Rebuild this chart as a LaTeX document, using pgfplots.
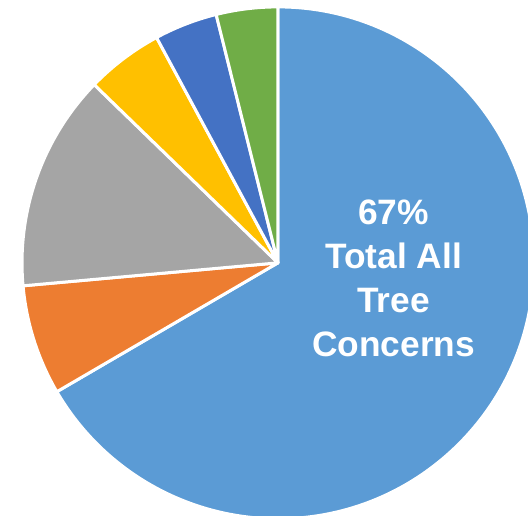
\documentclass[border=0pt]{standalone}
\usepackage{pgfplots}
\usepackage{pgfplotstable}
\pgfplotsset{compat=1.18}
\usepackage{fontspec}
\setmainfont{Liberation Sans}

\definecolor{sBlue}{HTML}{5B9BD5}
\definecolor{sOrange}{HTML}{ED7D31}
\definecolor{sGray}{HTML}{A5A5A5}
\definecolor{sYellow}{HTML}{FFC000}
\definecolor{sDarkBlue}{HTML}{4472C4}
\definecolor{sGreen}{HTML}{70AD47}

% shares in percent, clockwise from 12 o'clock
\pgfplotstableread{
share colour
66.9  sBlue
7.0   sOrange
13.75 sGray
4.9   sYellow
4.0   sDarkBlue
3.9   sGreen
}\piedata

\begin{document}
\begin{tikzpicture}
\begin{axis}[
	x=192pt, y=192pt,
	xmin=-1.086, xmax=0.977,
	ymin=-0.988, ymax=1.027,
	hide axis,
]
\addplot[draw=none] coordinates {(0,0)};
\pgfplotstablegetrowsof{\piedata}
\pgfmathtruncatemacro{\lastrow}{\pgfplotsretval-1}
% total, so the slices fill the full circle
\def\tot{0}
\pgfplotsforeachungrouped \i in {0,...,\lastrow}{
	\pgfplotstablegetelem{\i}{share}\of\piedata
	\pgfmathsetmacro{\tot}{\tot+\pgfplotsretval}
	\global\let\tot\tot
}
\pgfmathsetmacro{\degper}{360/\tot}
\def\cum{0}
\pgfplotsforeachungrouped \i in {0,...,\lastrow}{
	\pgfplotstablegetelem{\i}{share}\of\piedata
	\let\val\pgfplotsretval
	\pgfplotstablegetelem{\i}{colour}\of\piedata
	\let\col\pgfplotsretval
	\pgfmathsetmacro{\sa}{90-\degper*\cum}
	\pgfmathsetmacro{\ea}{90-\degper*(\cum+\val)}
	\pgfmathsetmacro{\cx}{cos(\sa)}
	\pgfmathsetmacro{\cy}{sin(\sa)}
	\edef\temp{\noexpand\filldraw[fill=\col, draw=white, line width=2.25pt, line join=round]
		(axis cs:0,0) -- (axis cs:\cx,\cy)
		arc[start angle=\sa, end angle=\ea, radius=192pt] -- cycle;}
	\temp
	\pgfmathsetmacro{\cum}{\cum+\val}
	\global\let\cum\cum
}
\node[align=center, text=white, font=\fontsize{26.5}{33}\selectfont\bfseries]
	at (axis cs:0.452,-0.062) {67\%\\Total All\\Tree\\Concerns};
\end{axis}
\pgfresetboundingbox
\useasboundingbox (current axis.south west) rectangle (current axis.north east);
\end{tikzpicture}
\end{document}
